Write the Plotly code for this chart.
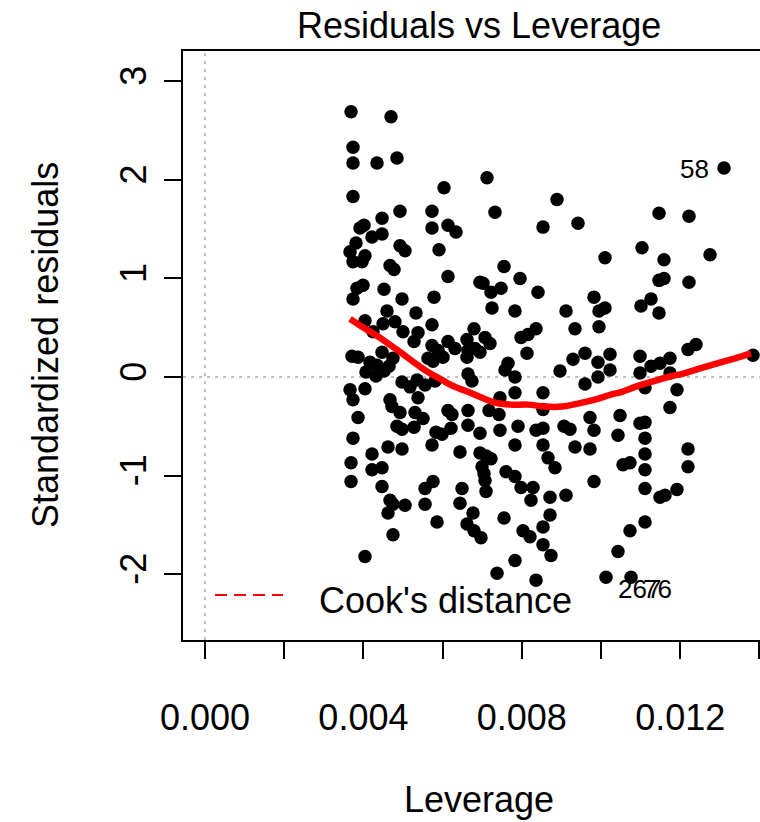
import plotly.graph_objects as go

# Leverage (hat values) and standardized residuals
leverage = [
    0.003687, 0.004697, 0.003737, 0.003737, 0.004343, 0.004848, 0.003737, 0.004470, 0.004015, 0.003914,
    0.004217, 0.004470, 0.003813, 0.003662, 0.004040, 0.003737, 0.003965, 0.004672, 0.004773, 0.003990,
    0.003838, 0.004520, 0.003737, 0.004596, 0.004040, 0.004495, 0.004798, 0.004242, 0.004470, 0.003712,
    0.003864, 0.004167, 0.004343, 0.004747, 0.004646, 0.004066, 0.004318, 0.004520, 0.003662, 0.003737,
    0.004040, 0.003864, 0.003737, 0.003687, 0.003687, 0.004217, 0.004217, 0.004470, 0.004470, 0.004621,
    0.004672, 0.004722, 0.004848, 0.004975, 0.004672, 0.004747, 0.004621, 0.004747, 0.004040, 0.004975,
    0.005051,
    # middle-left
    0.004924, 0.005732, 0.006035, 0.005732, 0.006136, 0.006338, 0.004924, 0.005051, 0.005909, 0.006136,
    0.004975, 0.005783, 0.005328, 0.005000, 0.005379, 0.005732, 0.006793, 0.006944, 0.005278, 0.005732,
    0.006136, 0.005884, 0.006313, 0.005631, 0.005758, 0.006010, 0.006616, 0.007071, 0.007197, 0.006641,
    0.006818, 0.006944, 0.006616, 0.004975, 0.005177, 0.005354, 0.005556, 0.005808, 0.006641, 0.006742,
    0.005379, 0.004924, 0.005303, 0.005505, 0.006136, 0.006237, 0.006641, 0.006641, 0.005278, 0.005833,
    0.005985, 0.006212, 0.005732, 0.006439, 0.005556, 0.005758, 0.006490, 0.005556, 0.006439, 0.006768,
    0.005859, 0.006616, 0.006793, 0.006970,
    # middle
    0.007121, 0.007323, 0.008889, 0.008535, 0.009419, 0.010101, 0.007551, 0.007020, 0.007222, 0.007475,
    0.007955, 0.008409, 0.009823, 0.009949, 0.010101, 0.007247, 0.007828, 0.009116, 0.008359, 0.007980,
    0.008157, 0.009343, 0.009949, 0.008131, 0.007652, 0.007576, 0.007828, 0.008965, 0.009293, 0.009596,
    0.009924, 0.010227, 0.010227, 0.009924, 0.009596, 0.007828, 0.008535, 0.007449, 0.007172, 0.007424,
    0.008535, 0.009722, 0.010480, 0.006944, 0.007449, 0.007904, 0.008359, 0.008535, 0.009066, 0.009217,
    0.009823, 0.010429, 0.007828, 0.008535, 0.009343, 0.009722, 0.006944, 0.007096, 0.007222, 0.008662,
    0.008838, 0.006995, 0.007045, 0.007071, 0.007096, 0.007601, 0.007828, 0.007980, 0.008283, 0.008232,
    0.008712, 0.009116, 0.009823, 0.007551, 0.008712, 0.008535, 0.008030, 0.008207, 0.008535, 0.008737,
    0.007828, 0.010429, 0.007374, 0.008359, 0.010126,
    # right
    0.013106, 0.011465, 0.012222, 0.011035, 0.011591, 0.012753, 0.011465, 0.011591, 0.012222, 0.011263,
    0.011010, 0.011465, 0.012197, 0.012399, 0.010985, 0.011263, 0.011490, 0.011742, 0.010985, 0.011742,
    0.011111, 0.011919, 0.013838, 0.011742, 0.010985, 0.011111, 0.011111, 0.011111, 0.012197, 0.010556,
    0.010732, 0.011111, 0.012197, 0.011111, 0.011490, 0.011616, 0.011919, 0.011111, 0.010732, 0.010758,
]

std_resid = [
    2.69, 2.64, 2.33, 2.17, 2.17, 2.22, 1.83, 1.61, 1.54, 1.51,
    1.42, 1.45, 1.36, 1.27, 1.23, 1.17, 1.17, 1.13, 1.09, 0.93,
    0.90, 0.89, 0.79, 0.67, 0.57, 0.54, 0.56, 0.46, 0.25, 0.21,
    0.20, 0.15, 0.12, 0.19, 0.11, 0.05, 0.01, 0.06, -0.13, -0.23,
    -0.12, -0.41, -0.62, -0.87, -1.06, -0.78, -0.94, -0.92, -1.11, -0.71,
    -0.23, -0.30, -0.50, -0.53, -1.25, -1.29, -1.38, -1.60, -1.82, -0.73,
    -1.30,
    # middle-left
    1.68, 1.68, 1.92, 1.51, 1.54, 1.47, 1.33, 1.28, 1.29, 1.02,
    0.79, 0.81, 0.65, 0.46, 0.45, 0.53, 0.49, 0.96, 0.36, 0.32,
    0.36, 0.27, 0.29, 0.19, 0.16, 0.20, 0.38, 0.40, 0.34, 0.27,
    0.29, 0.25, 0.20, -0.05, -0.10, -0.03, -0.08, -0.04, 0.03, -0.04,
    -0.21, -0.36, -0.36, -0.42, -0.34, -0.38, -0.34, -0.49, -0.51, -0.56,
    -0.58, -0.52, -0.69, -0.76, -1.13, -1.06, -1.13, -1.29, -1.28, -1.38,
    -1.47, -1.49, -1.56, -1.63,
    # middle
    2.02, 1.67, 1.80, 1.52, 1.56, 1.21, 1.12, 0.95, 0.86, 0.90,
    1.00, 0.86, 0.81, 0.67, 0.70, 0.70, 0.67, 0.67, 0.49, 0.40,
    0.43, 0.49, 0.51, 0.24, 0.14, 0.07, 0.00, 0.06, 0.18, 0.24,
    0.15, 0.23, 0.07, 0.00, -0.07, -0.16, -0.16, -0.21, -0.34, -0.38,
    -0.33, -0.41, -0.39, -0.57, -0.54, -0.50, -0.54, -0.52, -0.50, -0.53,
    -0.54, -0.59, -0.69, -0.69, -0.71, -0.73, -0.77, -0.80, -0.83, -0.82,
    -0.92, -0.91, -0.98, -1.05, -1.16, -0.96, -1.01, -1.12, -1.12, -1.25,
    -1.22, -1.20, -1.06, -1.43, -1.40, -1.52, -1.56, -1.62, -1.70, -1.81,
    -1.86, -1.77, -1.99, -2.06, -2.03,
    # right
    2.12, 1.66, 1.63, 1.31, 1.19, 1.24, 0.98, 1.00, 0.96, 0.79,
    0.72, 0.65, 0.28, 0.33, 0.21, 0.11, 0.14, 0.19, 0.04, 0.04,
    -0.11, -0.13, 0.22, -0.31, -0.47, -0.46, -0.62, -0.78, -0.73, -0.89,
    -0.87, -0.94, -0.91, -1.13, -1.22, -1.20, -1.14, -1.47, -1.56, -2.03,
]

# Smoother (red line)
smooth_x = [0.003662, 0.003965, 0.004293, 0.004621, 0.004975, 0.005303, 0.005631, 0.005985,
            0.006313, 0.006641, 0.006995, 0.007323, 0.007702, 0.008157, 0.008586, 0.009015,
            0.009419, 0.009848, 0.010227, 0.010530, 0.010859, 0.011263, 0.011692, 0.012121,
            0.012525, 0.012955, 0.013384, 0.013788]
smooth_y = [0.59, 0.51, 0.43, 0.34, 0.24, 0.14, 0.05, -0.03, -0.10, -0.15, -0.21, -0.26,
            -0.28, -0.28, -0.30, -0.30, -0.27, -0.23, -0.18, -0.15, -0.10, -0.05, 0.00,
            0.04, 0.09, 0.14, 0.19, 0.24]

# Labelled observations
id_labels = ["58", "267", "76"]
id_x = [0.013106, 0.010126, 0.010758]
id_y = [2.12, -2.03, -2.03]

x_tickvals = [0.000, 0.002, 0.004, 0.006, 0.008, 0.010, 0.012, 0.014]
x_ticktext = ["0.000", "", "0.004", "", "0.008", "", "0.012", ""]
y_tickvals = [-2, -1, 0, 1, 2, 3]
y_ticktext = ["-2", "-1", "0", "1", "2", "3"]

FONT = "Liberation Sans, Arial, Helvetica, sans-serif"
FS = 36

fig = go.Figure()
fig.add_trace(go.Scatter(x=leverage, y=std_resid, mode="markers",
                         marker=dict(color="black", size=13.5, line=dict(width=0)),
                         hoverinfo="skip", showlegend=False))
fig.add_trace(go.Scatter(x=smooth_x, y=smooth_y, mode="lines",
                         line=dict(color="red", width=6.5, shape="spline"),
                         hoverinfo="skip", showlegend=False))

# reference dotted lines
fig.add_shape(type="line", xref="x", yref="paper", x0=0, x1=0, y0=0, y1=1,
              line=dict(color="#BEBEBE", width=2, dash="3px,5px"), layer="below")
fig.add_shape(type="line", xref="paper", yref="y", x0=0, x1=1, y0=0, y1=0,
              line=dict(color="#BEBEBE", width=2, dash="3px,5px"), layer="below")

# point labels
shifts = {"58": ("right", -13, -1), "267": ("left", 10, -12), "76": ("left", 10, -12)}
for lab, xv, yv in zip(id_labels, id_x, id_y):
    anc, xs, ys = shifts[lab]
    fig.add_annotation(x=xv, y=yv, xref="x", yref="y", text=lab, showarrow=False,
                       xanchor=anc, yanchor="middle", xshift=xs, yshift=ys,
                       font=dict(family=FONT, size=26, color="black"))

# legend
fig.add_shape(type="line", xref="paper", yref="paper", x0=0.0555, x1=0.1733, y0=0.0764, y1=0.0764,
              line=dict(color="red", width=2, dash="12px,7px"))
fig.add_annotation(xref="paper", yref="paper", x=0.2322, y=0.0679, text="Cook's distance",
                   showarrow=False, xanchor="left", yanchor="middle",
                   font=dict(family=FONT, size=FS, color="black"))

# title and axis titles
fig.add_annotation(xref="paper", yref="paper", x=0.513, y=1.0441, text="Residuals vs Leverage",
                   showarrow=False, xanchor="center", yanchor="middle",
                   font=dict(family=FONT, size=FS, color="black"))
fig.add_annotation(xref="paper", yref="paper", x=0.513, y=-0.2716, text="Leverage",
                   showarrow=False, xanchor="center", yanchor="middle",
                   font=dict(family=FONT, size=FS, color="black"))
fig.add_annotation(xref="paper", yref="paper", x=-0.2392, y=0.5008, text="Standardized residuals",
                   showarrow=False, xanchor="center", yanchor="middle", textangle=-90,
                   font=dict(family=FONT, size=FS, color="black"))

fig.update_layout(
    width=760, height=822,
    margin=dict(l=183, r=0, t=51, b=182),
    paper_bgcolor="white", plot_bgcolor="white",
    font=dict(family=FONT, size=FS, color="black"),
    xaxis=dict(range=[-0.000556, 0.014015], tickvals=x_tickvals, ticktext=x_ticktext,
               showgrid=False, zeroline=False, showline=True, linecolor="black", linewidth=2,
               mirror=True, ticks="outside", ticklen=17, tickwidth=2, tickcolor="black",
               ticklabelstandoff=28, tickfont=dict(family=FONT, size=FS, color="black")),
    yaxis=dict(range=[-2.667, 3.306], tickvals=y_tickvals, ticktext=y_ticktext,
               showgrid=False, zeroline=False, showline=True, linecolor="black", linewidth=2,
               mirror=False, ticks="outside", ticklen=17, tickwidth=2, tickcolor="black",
               tickangle=-90, ticklabelstandoff=4,
               tickfont=dict(family=FONT, size=FS, color="black")),
)

fig.write_html("out.html")
